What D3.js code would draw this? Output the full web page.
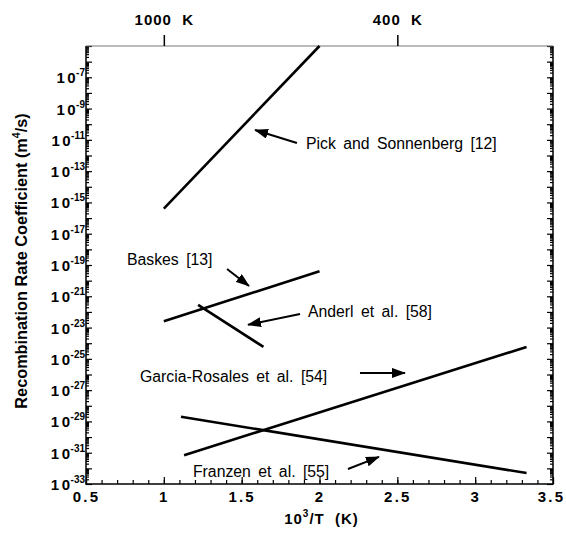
<!DOCTYPE html>
<html>
<head>
<meta charset="utf-8">
<script src="https://cdn.jsdelivr.net/npm/d3@7"></script>
<style>
  body { margin: 0; background: #fff; }
  text { font-family: "Liberation Sans", Arial, Helvetica, sans-serif; }
</style>
</head>
<body>
<div id="chart"></div>
<script>
// recombination rate coefficient vs inverse temperature (m^4/s)

const xTicks = [0.5, 1, 1.5, 2, 2.5, 3, 3.5]
const yLabelExps = [-33, -31, -29, -27, -25, -23, -21, -19, -17, -15, -13, -11, -9, -7]
const topTemps = [1000, 400]

// each series: endpoints [1e3/T, K]
const pickSonnenberg = [[1.0, 4e-16], [2.0, 1e-5]]
const baskes = [[1.0, 2.5e-23], [2.0, 4e-20]]
const anderl = [[1.22, 2.8e-22], [1.64, 5.8e-25]]
const garciaRosales = [[1.13, 7e-32], [3.33, 5.8e-25]]
const franzen = [[1.11, 2e-29], [3.33, 5e-33]]

const series = [pickSonnenberg, baskes, anderl, garciaRosales, franzen]

// annotations: label anchor, arrow tail, arrow head (data coordinates)
const labels = ["Pick and Sonnenberg [12]", "Baskes [13]", "Anderl et al. [58]",
                "Garcia-Rosales et al. [54]", "Franzen et al. [55]"]
const labelAt = [[1.913, 6.3e-12], [0.763, 2.1e-19], [1.926, 1e-22], [0.847, 7.9e-27], [1.187, 5.9e-33]]
const arrowFrom = [[1.855, 6.3e-12], [1.406, 5.6e-20], [1.875, 7.4e-23], [2.26, 1.26e-26], [2.183, 9.1e-33]]
const arrowTo = [[1.586, 4.3e-11], [1.547, 4.6e-21], [1.541, 1.5e-23], [2.549, 1.26e-26], [2.382, 5.4e-32]]

const width = 566, height = 534
const margin = {top: 46, right: 13, bottom: 50, left: 86}

const x = d3.scaleLinear()
    .domain([0.5, 3.5])
    .range([margin.left, width - margin.right])

const y = d3.scaleLog()
    .domain([1e-33, 1e-5])
    .range([height - margin.bottom, margin.top])

const svg = d3.select("#chart")
  .append("svg")
    .attr("width", width)
    .attr("height", height)

svg.append("defs").append("marker")
    .attr("id", "head")
    .attr("viewBox", "0 0 14 10")
    .attr("refX", 13)
    .attr("refY", 5)
    .attr("markerUnits", "userSpaceOnUse")
    .attr("markerWidth", 14)
    .attr("markerHeight", 10)
    .attr("orient", "auto")
  .append("path")
    .attr("d", "M0,0L14,5L0,10Z")
    .attr("fill", "#000")

// decade + minor tick values
const decades = d3.range(-33, -4).map(e => Math.pow(10, e))
const minors = []
d3.range(-33, -5).forEach(e => {
  for (let k = 2; k <= 9; k++) minors.push(k * Math.pow(10, e))
})

const bottom = height - margin.bottom
const right = width - margin.right

const tickStyle = g => g
    .call(g => g.select(".domain").remove())
    .call(g => g.selectAll(".tick line").attr("stroke", "#000").attr("stroke-width", 1.2))

// left axis ticks (inward)
svg.append("g")
    .attr("transform", `translate(${margin.left},0)`)
    .call(d3.axisLeft(y).tickValues(minors).tickSize(-3).tickFormat(""))
    .call(tickStyle)
svg.append("g")
    .attr("transform", `translate(${margin.left},0)`)
    .call(d3.axisLeft(y).tickValues(decades).tickSize(-6).tickFormat(""))
    .call(tickStyle)

// right axis ticks (inward)
svg.append("g")
    .attr("transform", `translate(${right},0)`)
    .call(d3.axisRight(y).tickValues(minors).tickSize(-3).tickFormat(""))
    .call(tickStyle)
svg.append("g")
    .attr("transform", `translate(${right},0)`)
    .call(d3.axisRight(y).tickValues(decades).tickSize(-6).tickFormat(""))
    .call(tickStyle)

// bottom axis
svg.append("g")
    .attr("transform", `translate(0,${bottom})`)
    .call(d3.axisBottom(x).tickValues(d3.range(5, 36).map(d => d / 10)).tickSize(-4).tickFormat(""))
    .call(tickStyle)
svg.append("g")
    .attr("transform", `translate(0,${bottom})`)
    .call(d3.axisBottom(x).tickValues(xTicks).tickSize(-7).tickFormat(d3.format("")))
    .call(tickStyle)
    .call(g => g.selectAll(".tick text")
        .attr("y", 7)
        .attr("dy", "0.71em")
        .attr("fill", "#000")
        .attr("font-size", 15)
        .attr("font-weight", "bold")
        .attr("letter-spacing", 2.2)
        .attr("font-family", "Liberation Sans, Arial, sans-serif"))
    .call(g => g.select(".tick:last-of-type text").attr("dx", -2))

// y labels with superscript exponent
svg.append("g")
  .selectAll("text")
  .data(yLabelExps)
  .join("text")
    .attr("x", margin.left - 1)
    .attr("y", d => y(Math.pow(10, d)) + 6)
    .attr("text-anchor", "end")
    .attr("font-weight", "bold")
    .attr("font-size", 15)
    .call(t => t.append("tspan").attr("letter-spacing", 2.5).text("1"))
    .call(t => t.append("tspan").text("0"))
    .call(t => t.append("tspan")
        .attr("font-size", 10)
        .attr("dx", 0.5)
        .attr("dy", -7)
        .text(d => d))

// frame: left, bottom, right black; top grey
svg.append("path")
    .attr("d", `M${margin.left},${margin.top}V${bottom}H${right}V${margin.top}`)
    .attr("fill", "none")
    .attr("stroke", "#000")
    .attr("stroke-width", 1.5)
svg.append("line")
    .attr("x1", margin.left).attr("x2", right)
    .attr("y1", margin.top).attr("y2", margin.top)
    .attr("stroke", "#777")
    .attr("stroke-width", 1)

// top temperature axis
svg.append("g")
    .attr("transform", `translate(0,${margin.top})`)
    .call(d3.axisTop(x).tickValues(topTemps.map(T => 1000 / T)).tickSize(11)
        .tickFormat((d, i) => `${topTemps[i]}\u00a0\u00a0K`))
    .call(g => g.select(".domain").remove())
    .call(g => g.selectAll(".tick line").attr("stroke", "#000").attr("stroke-width", 1.5))
    .call(g => g.selectAll(".tick text")
        .attr("y", -21)
        .attr("fill", "#000")
        .attr("font-size", 15)
        .attr("font-weight", "bold")
        .attr("letter-spacing", 1)
        .attr("font-family", "Liberation Sans, Arial, sans-serif"))

// data lines
const line = d3.line()
    .x(d => x(d[0]))
    .y(d => y(d[1]))

svg.append("g")
  .selectAll("path")
  .data(series)
  .join("path")
    .attr("d", line)
    .attr("fill", "none")
    .attr("stroke", "#000")
    .attr("stroke-width", 2.6)

// annotations
svg.append("g")
  .selectAll("line")
  .data(labels)
  .join("line")
    .attr("x1", (d, i) => x(arrowFrom[i][0]))
    .attr("y1", (d, i) => y(arrowFrom[i][1]))
    .attr("x2", (d, i) => x(arrowTo[i][0]))
    .attr("y2", (d, i) => y(arrowTo[i][1]))
    .attr("stroke", "#000")
    .attr("stroke-width", 2)
    .attr("marker-end", "url(#head)")

svg.append("g")
  .selectAll("text")
  .data(labels)
  .join("text")
    .attr("x", (d, i) => x(labelAt[i][0]))
    .attr("y", (d, i) => y(labelAt[i][1]))
    .attr("dy", "0.35em")
    .attr("font-size", 15.8)
    .attr("word-spacing", 3)
    .text(d => d)

// axis titles
svg.append("text")
    .attr("x", (margin.left + right) / 2 + 2)
    .attr("y", 524)
    .attr("text-anchor", "middle")
    .attr("font-weight", "bold")
    .attr("font-size", 15)
    .attr("letter-spacing", 1)
    .call(t => t.append("tspan").text("10"))
    .call(t => t.append("tspan").attr("font-size", 10).attr("dy", -7).text("3"))
    .call(t => t.append("tspan").attr("dy", 7).text("/T\u00a0\u00a0(K)"))

svg.append("text")
    .attr("transform", `translate(27,261) rotate(-90)`)
    .attr("text-anchor", "middle")
    .attr("font-weight", "bold")
    .attr("font-size", 16.3)
    .call(t => t.append("tspan").text("Recombination Rate Coefficient (m"))
    .call(t => t.append("tspan").attr("font-size", 10.5).attr("dy", -7).text("4"))
    .call(t => t.append("tspan").attr("dy", 7).text("/s)"))
</script>
</body>
</html>
